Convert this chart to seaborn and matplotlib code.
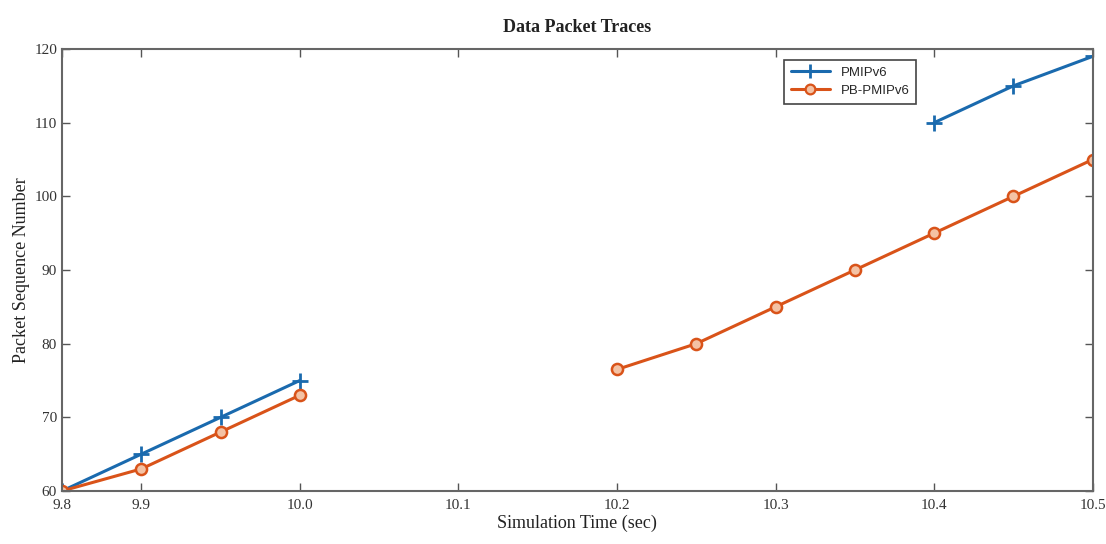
import matplotlib
matplotlib.use("Agg")
import matplotlib.pyplot as plt
import seaborn as sns
import pandas as pd
import numpy as np

# ---- data ----
pmip_time = [9.85, 9.90, 9.95, 10.00, 10.40, 10.45, 10.50]
pmip_seq = [60, 65, 70, 75, 110, 115, 119]
pmip_seg = [0, 0, 0, 0, 1, 1, 1]

pb_time = [9.85, 9.90, 9.95, 10.00, 10.20, 10.25, 10.30, 10.35, 10.40, 10.45, 10.50]
pb_seq = [60, 63, 68, 73, 76.5, 80, 85, 90, 95, 100, 105]
pb_seg = [0, 0, 0, 0, 1, 1, 1, 1, 1, 1, 1]

xtick_pos = [9.85, 9.90, 10.00, 10.10, 10.20, 10.30, 10.40, 10.50]
xtick_labels = ["9.8", "9.9", "10.0", "10.1", "10.2", "10.3", "10.4", "10.5"]
yticks = [60, 70, 80, 90, 100, 110, 120]

df_pmip = pd.DataFrame({"time": pmip_time, "seq": pmip_seq, "seg": pmip_seg})
df_pb = pd.DataFrame({"time": pb_time, "seq": pb_seq, "seg": pb_seg})

sns.set_theme(style="ticks")
plt.rcParams["font.family"] = ["Liberation Serif", "DejaVu Serif"]

fig = plt.figure(figsize=(11.06, 5.44), dpi=100)
ax = fig.add_axes([0.056, 0.0974, 0.932, 0.8125])

blue = "#1A6AAE"
orange = "#D95319"

sns.lineplot(data=df_pmip, x="time", y="seq", units="seg", estimator=None,
             color=blue, linewidth=2.2, marker="+", markersize=11,
             markeredgewidth=2.0, markeredgecolor=blue, ax=ax, sort=False)
sns.lineplot(data=df_pb, x="time", y="seq", units="seg", estimator=None,
             color=orange, linewidth=2.2, marker="o", markersize=8,
             markerfacecolor="#F4C2A4", markeredgecolor=orange,
             markeredgewidth=1.8, ax=ax, sort=False)

ax.set_xlim(9.85, 10.5)
ax.set_ylim(60, 120)
ax.set_xticks(xtick_pos)
ax.set_xticklabels(xtick_labels)
ax.set_yticks(yticks)
ax.tick_params(direction="in", top=True, right=True, length=6, width=1,
               colors="#555555", labelcolor="#333333", labelsize=11)
ax.tick_params(axis="x", pad=6)
for s in ax.spines.values():
    s.set_color("#666666")
    s.set_linewidth(1.5)

ax.set_xlabel("Simulation Time (sec)", fontsize=13, color="#222222", labelpad=2)
ax.set_ylabel("Packet Sequence Number", fontsize=13, color="#222222", labelpad=3)
ax.set_title("Data Packet Traces", fontsize=13, fontweight="bold", color="#222222", pad=12)

from matplotlib.lines import Line2D
handles = [
    Line2D([0], [0], color=blue, linewidth=2.2, marker="+", markersize=10,
           markeredgewidth=2, markeredgecolor=blue),
    Line2D([0], [0], color=orange, linewidth=2.2, marker="o", markersize=7,
           markerfacecolor="#F4C2A4", markeredgecolor=orange, markeredgewidth=1.6),
]
leg = ax.legend(handles, ["PMIPv6", "PB-PMIPv6"], loc="upper left",
                bbox_to_anchor=(0.694, 0.99), fancybox=False, framealpha=1,
                edgecolor="#444444", prop={"family": "Liberation Sans", "size": 9.5},
                handlelength=3, borderpad=0.5, labelspacing=0.45)
leg.get_frame().set_linewidth(1.2)

fig.savefig("out.png", dpi=100, facecolor="white")
